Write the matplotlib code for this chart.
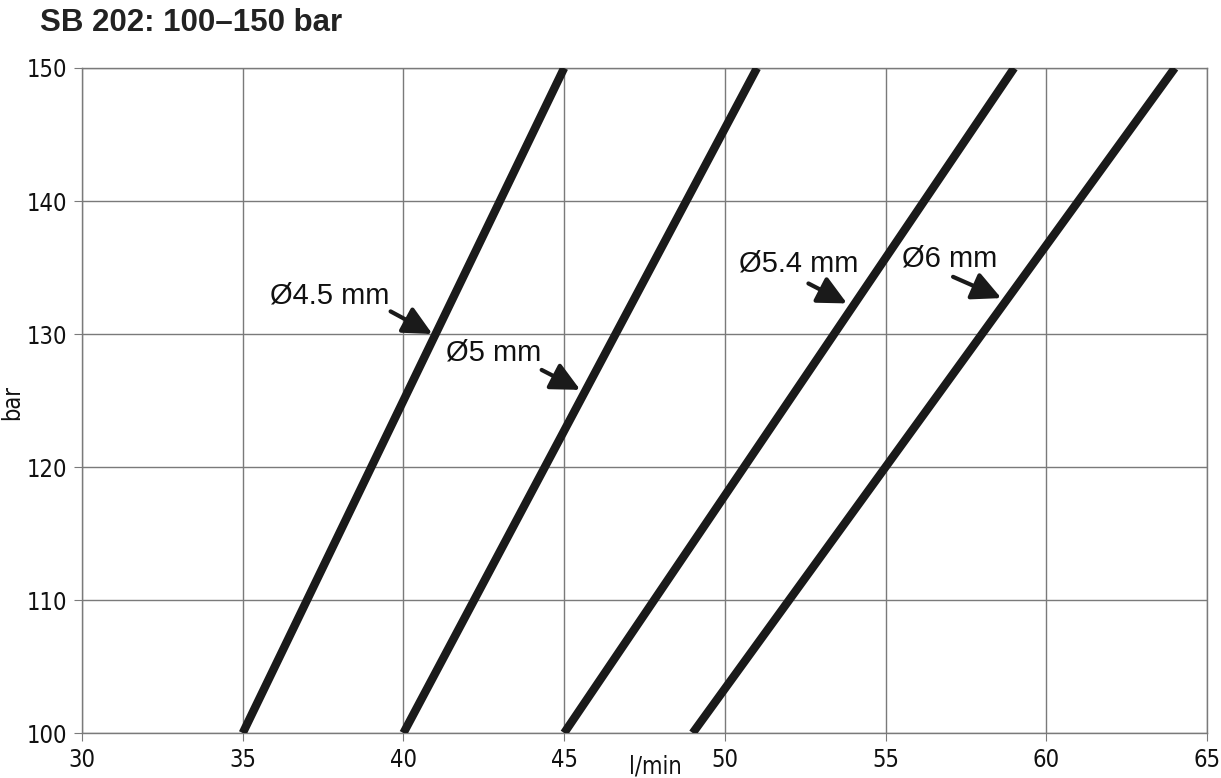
import matplotlib.pyplot as plt
from matplotlib import font_manager

# nozzle sizes and flow (l/min) at 100 bar and at 150 bar
sizes = ['Ø4.5 mm', 'Ø5 mm', 'Ø5.4 mm', 'Ø6 mm']
pressure = [100, 150]
flow_100 = [35, 40, 45, 49]
flow_150 = [45, 51, 59, 64]

# label text positions and arrow tips (data coords)
label_xy = [(37.7, 132.9), (42.8, 128.6), (52.3, 135.3), (57.0, 135.7)]
tail_xy = [(39.6, 131.7), (44.3, 127.3), (52.6, 133.8), (57.1, 134.3)]
tip_xy = [(40.9, 130.0), (45.5, 125.8), (53.8, 132.3), (58.6, 132.7)]

x_ticks = [30, 35, 40, 45, 50, 55, 60, 65]
y_ticks = [100, 110, 120, 130, 140, 150]

plt.rcParams['font.family'] = ['Liberation Sans', 'DejaVu Sans']
# narrow face for the axis numbers, if one is around
names = set(f.name for f in font_manager.fontManager.ttflist)
narrow = None
for n in ['Liberation Sans Narrow', 'Arial Narrow', 'DejaVu Sans Condensed']:
    if n in names:
        narrow = n
        break
tick_font = dict(family=[narrow] if narrow else ['DejaVu Sans'], stretch='condensed')

fig = plt.figure(figsize=(12.21, 7.78), dpi=100)
ax = fig.add_axes([0.0672, 0.0578, 0.9213, 0.8548])

for i in range(len(sizes)):
    ax.plot([flow_100[i], flow_150[i]], pressure, color='#1a1a1a', lw=6,
            solid_capstyle='butt', zorder=3)
    ax.text(label_xy[i][0], label_xy[i][1], sizes[i], fontsize=21,
            ha='center', va='center', color='#111111', zorder=4)
    ax.annotate('', xy=tip_xy[i], xytext=tail_xy[i],
                arrowprops=dict(arrowstyle='-|>,head_length=0.55,head_width=0.27',
                                mutation_scale=32, lw=3,
                                color='#1a1a1a', shrinkA=0, shrinkB=0),
                zorder=4)

ax.set_xlim(30, 65)
ax.set_ylim(100, 150)
ax.set_xticks(x_ticks)
ax.set_yticks(y_ticks)
ax.grid(True, color='#7a7a7a', lw=1)
ax.set_axisbelow(True)
for s in ax.spines.values():
    s.set_color('#7a7a7a')
    s.set_linewidth(1)
ax.tick_params(direction='out', length=6, color='#7a7a7a', labelsize=17,
               labelcolor='#111111', pad=5)
for lab in ax.get_xticklabels() + ax.get_yticklabels():
    lab.set_fontproperties(font_manager.FontProperties(size=17, **tick_font))

fig.text(655 / 1221, 1 - 766 / 778, 'l/min', fontsize=17, ha='center',
         va='center', color='#111111', **tick_font)
fig.text(12 / 1221, 1 - 402 / 778, 'bar', fontsize=17, rotation=90,
         ha='center', va='center', color='#111111', **tick_font)

fig.text(0.033, 0.99, 'SB 202: 100–150 bar', fontsize=22.5, fontweight='bold',
         ha='left', va='top', color='#222222')

fig.savefig('out.png', dpi=100)
